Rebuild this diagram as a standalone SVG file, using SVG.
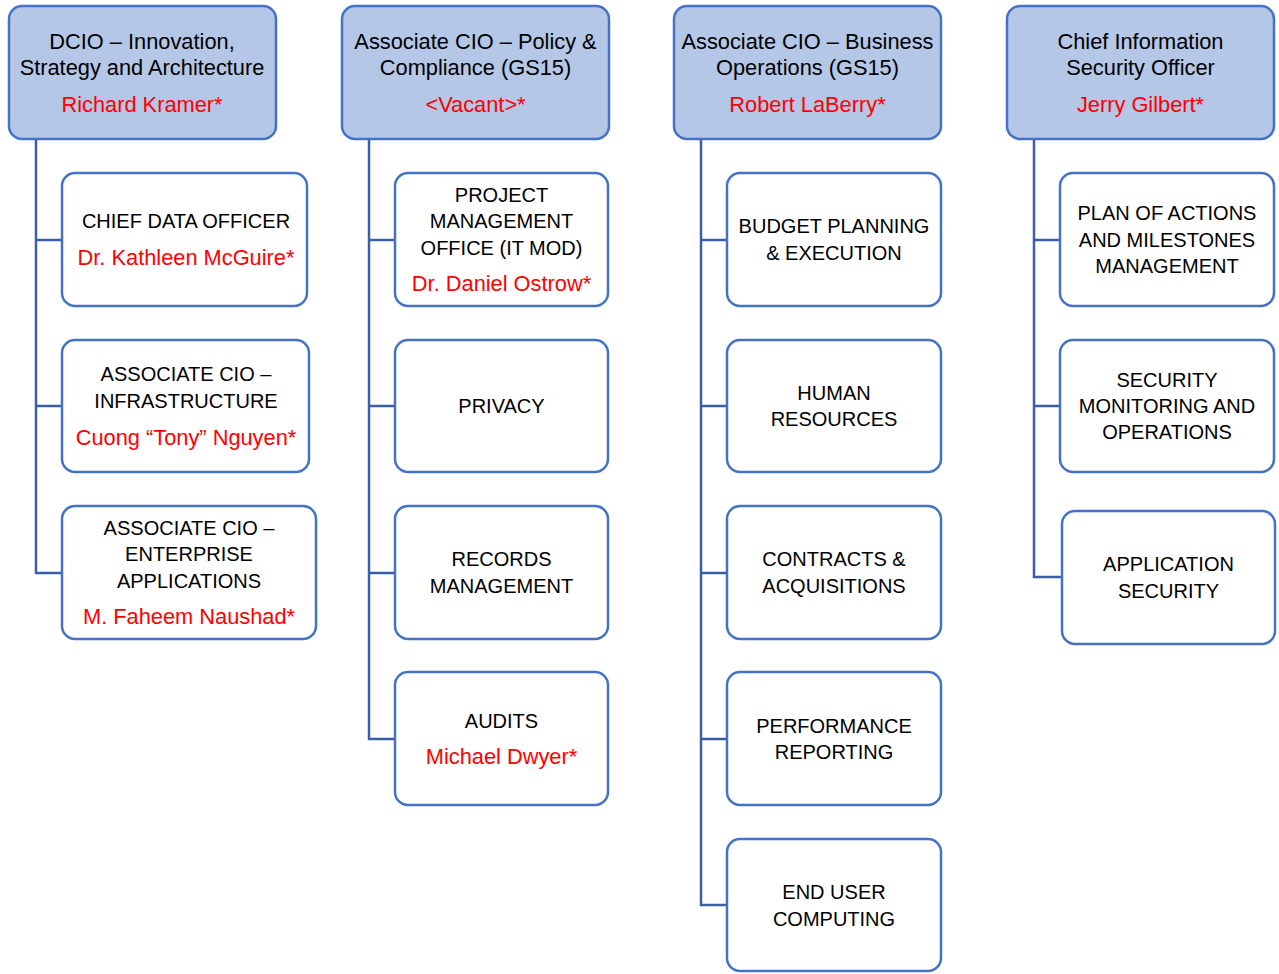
<svg xmlns="http://www.w3.org/2000/svg" width="1279" height="974" viewBox="0 0 1279 974">
<style>
.hd{fill:#B4C7E7;stroke:#4472C4;stroke-width:2.5}
.bx{fill:#FFFFFF;stroke:#4472C4;stroke-width:2.5}
text{font-family:"Liberation Sans",Arial,sans-serif;font-size:20px;fill:#000;text-anchor:middle}
text.m{font-size:21.8px}
text.r{fill:#FF0000;font-size:21.8px}
.ln{fill:none;stroke:#3B5FA6;stroke-width:2.5}
</style>
<rect width="1279" height="974" fill="#FFFFFF"/>
<g id="connectors">
<path class="ln" d="M36,139 V573 H62 M36,240 H62 M36,406 H62"/>
<path class="ln" d="M369,139 V739 H395 M369,240 H395 M369,406 H395 M369,573 H395"/>
<path class="ln" d="M701,139 V905 H727 M701,240 H727 M701,406 H727 M701,573 H727 M701,739 H727"/>
<path class="ln" d="M1034,139 V577 H1062 M1034,240 H1060 M1034,406 H1060"/>
</g>
<g id="h1"><rect class="hd" x="9" y="6" width="267" height="133" rx="13"/>
<text class="m" x="142" y="49">DCIO – Innovation,</text><text class="m" x="142" y="75">Strategy and Architecture</text><text class="r" x="142" y="112">Richard Kramer*</text></g>
<g id="h2"><rect class="hd" x="342" y="6" width="267" height="133" rx="13"/>
<text class="m" x="475.5" y="49">Associate CIO – Policy &amp;</text><text class="m" x="475.5" y="75">Compliance (GS15)</text><text class="r" x="475.5" y="112">&lt;Vacant&gt;*</text></g>
<g id="h3"><rect class="hd" x="674" y="6" width="267" height="133" rx="13"/>
<text class="m" x="807.5" y="49">Associate CIO – Business</text><text class="m" x="807.5" y="75">Operations (GS15)</text><text class="r" x="807.5" y="112">Robert LaBerry*</text></g>
<g id="h4"><rect class="hd" x="1007" y="6" width="267" height="133" rx="13"/>
<text class="m" x="1140.5" y="49">Chief Information</text><text class="m" x="1140.5" y="75">Security Officer</text><text class="r" x="1140.5" y="112">Jerry Gilbert*</text></g>

<g id="c1a"><rect class="bx" x="62" y="173" width="245" height="133" rx="13"/>
<text x="186" y="228">CHIEF DATA OFFICER</text><text class="r" x="186" y="265">Dr. Kathleen McGuire*</text></g>
<g id="c1b"><rect class="bx" x="62" y="340" width="247" height="132" rx="13"/>
<text x="186" y="381">ASSOCIATE CIO –</text><text x="186" y="408">INFRASTRUCTURE</text><text class="r" x="186" y="445">Cuong “Tony” Nguyen*</text></g>
<g id="c1c"><rect class="bx" x="62" y="506" width="254" height="133" rx="13"/>
<text x="189" y="535">ASSOCIATE CIO –</text><text x="189" y="561">ENTERPRISE</text><text x="189" y="588">APPLICATIONS</text><text class="r" x="189" y="624">M. Faheem Naushad*</text></g>

<g id="c2a"><rect class="bx" x="395" y="173" width="213" height="133" rx="13"/>
<text x="501.5" y="202">PROJECT</text><text x="501.5" y="228">MANAGEMENT</text><text x="501.5" y="255">OFFICE (IT MOD)</text><text class="r" x="501.5" y="291">Dr. Daniel Ostrow*</text></g>
<g id="c2b"><rect class="bx" x="395" y="340" width="213" height="132" rx="13"/>
<text x="501.5" y="413">PRIVACY</text></g>
<g id="c2c"><rect class="bx" x="395" y="506" width="213" height="133" rx="13"/>
<text x="501.5" y="566">RECORDS</text><text x="501.5" y="593">MANAGEMENT</text></g>
<g id="c2d"><rect class="bx" x="395" y="672" width="213" height="133" rx="13"/>
<text x="501.5" y="728">AUDITS</text><text class="r" x="501.5" y="764">Michael Dwyer*</text></g>

<g id="c3a"><rect class="bx" x="727" y="173" width="214" height="133" rx="13"/>
<text x="834" y="233">BUDGET PLANNING</text><text x="834" y="260">&amp; EXECUTION</text></g>
<g id="c3b"><rect class="bx" x="727" y="340" width="214" height="132" rx="13"/>
<text x="834" y="400">HUMAN</text><text x="834" y="426">RESOURCES</text></g>
<g id="c3c"><rect class="bx" x="727" y="506" width="214" height="133" rx="13"/>
<text x="834" y="566">CONTRACTS &amp;</text><text x="834" y="593">ACQUISITIONS</text></g>
<g id="c3d"><rect class="bx" x="727" y="672" width="214" height="133" rx="13"/>
<text x="834" y="733">PERFORMANCE</text><text x="834" y="759">REPORTING</text></g>
<g id="c3e"><rect class="bx" x="727" y="839" width="214" height="132" rx="13"/>
<text x="834" y="899">END USER</text><text x="834" y="926">COMPUTING</text></g>

<g id="c4a"><rect class="bx" x="1060" y="173" width="214" height="133" rx="13"/>
<text x="1167" y="220">PLAN OF ACTIONS</text><text x="1167" y="247">AND MILESTONES</text><text x="1167" y="273">MANAGEMENT</text></g>
<g id="c4b"><rect class="bx" x="1060" y="340" width="214" height="132" rx="13"/>
<text x="1167" y="387">SECURITY</text><text x="1167" y="413">MONITORING AND</text><text x="1167" y="439">OPERATIONS</text></g>
<g id="c4c"><rect class="bx" x="1062" y="511" width="213" height="133" rx="13"/>
<text x="1168.5" y="571">APPLICATION</text><text x="1168.5" y="598">SECURITY</text></g>
</svg>
